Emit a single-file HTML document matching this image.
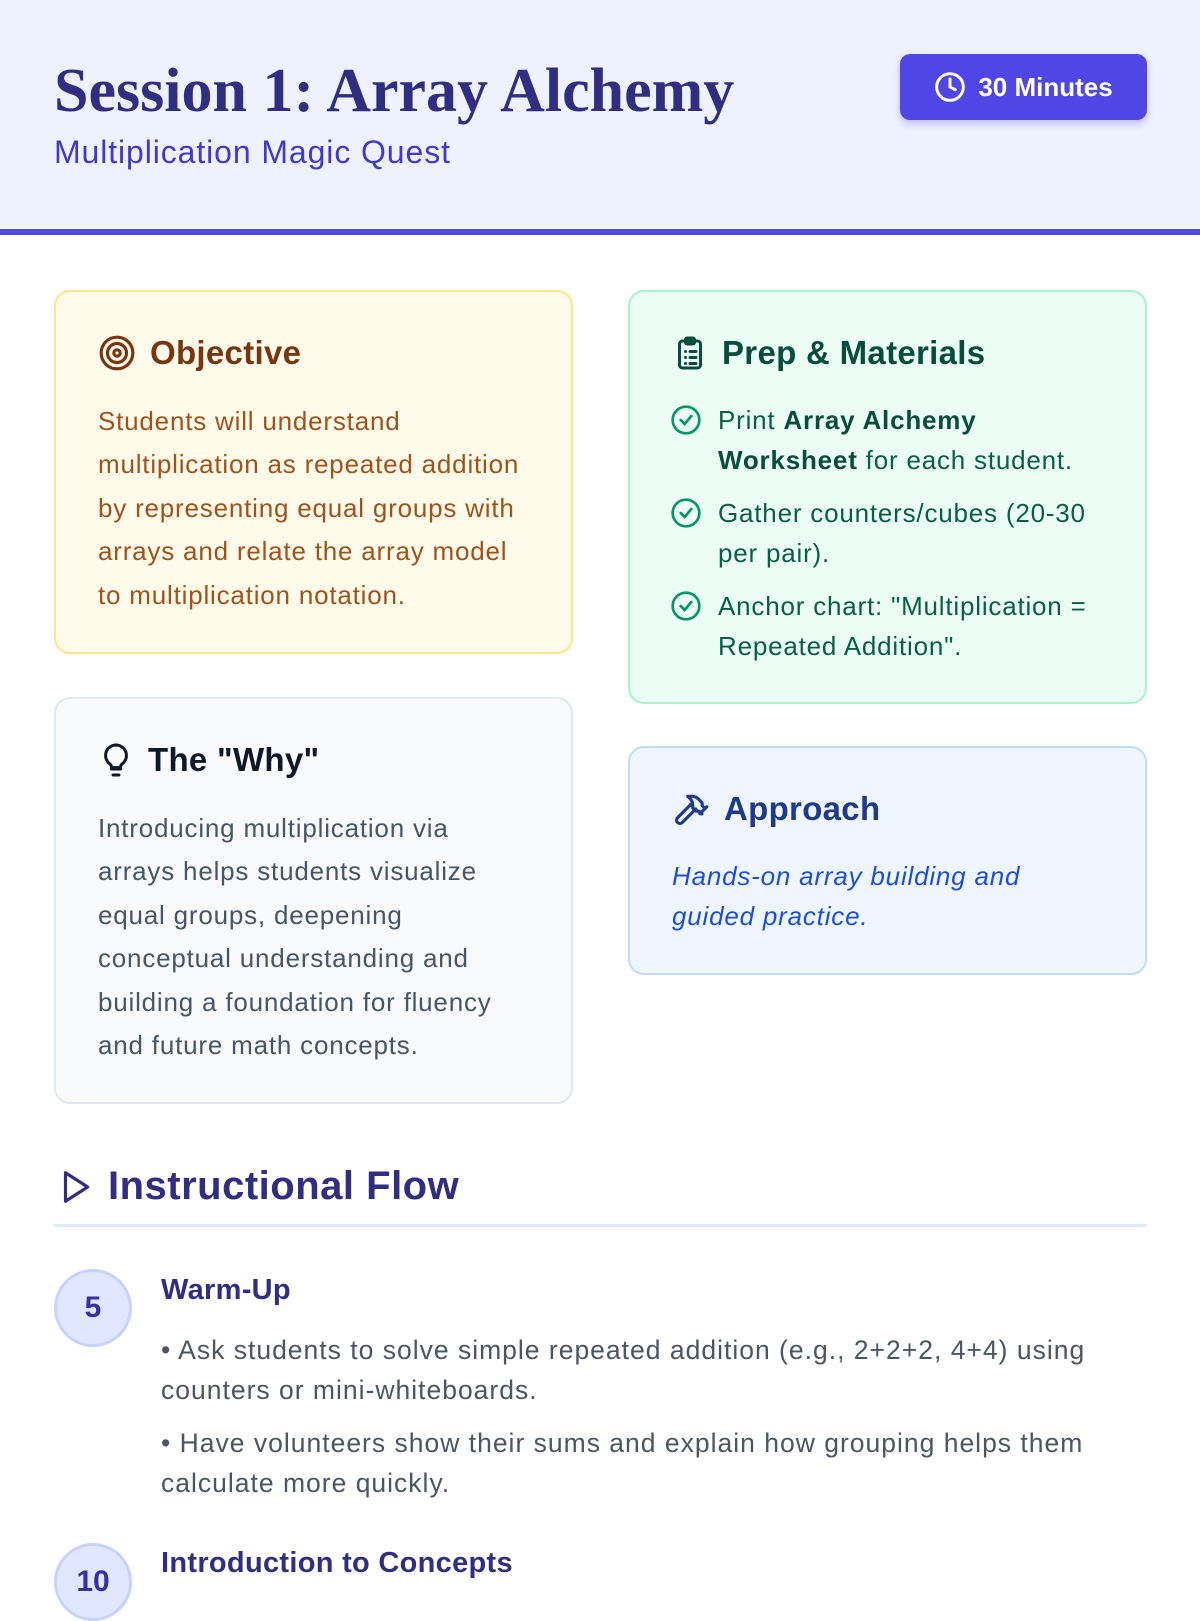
<!DOCTYPE html>
<html><head><meta charset="utf-8"><style>
*{margin:0;padding:0;box-sizing:border-box}
body{width:1200px;height:1600px;overflow:hidden;background:#fff;font-family:"Liberation Sans",sans-serif;position:relative}
.hdr{position:absolute;left:0;top:0;width:1200px;height:235px;background:#eef2ff;border-bottom:6px solid #4f46e5}
.title{position:absolute;left:54px;top:56px;font-family:"Liberation Serif",serif;font-weight:bold;font-size:62px;color:#312e81;letter-spacing:0px;white-space:nowrap}
.sub{position:absolute;left:54px;top:134px;font-size:32px;letter-spacing:0.9px;color:#4338ca;white-space:nowrap}
.btn{position:absolute;left:900px;top:54px;width:247px;height:66px;background:#4f46e5;border-radius:10px;box-shadow:0 4px 8px rgba(79,70,229,.3);color:#fff;font-weight:bold;font-size:26px;display:flex;align-items:center;justify-content:center;gap:12px}
.card{position:absolute;border-radius:16px;border:2px solid}
.h{position:absolute;left:42px;font-weight:bold;font-size:33px;letter-spacing:0.3px;display:flex;align-items:center;gap:14px;white-space:nowrap}
.p{position:absolute;left:42px;font-size:26px;line-height:43.4px;letter-spacing:0.8px;white-space:nowrap}
ul{list-style:none;position:absolute;left:40px}
li{position:relative;padding-left:48px;font-size:26px;line-height:40px;margin-bottom:13px;letter-spacing:0.8px;white-space:nowrap}
li svg{position:absolute;left:0;top:4px}
.step{position:absolute;left:54px;width:78px;height:78px;border-radius:50%;background:#e0e7ff;border:3px solid #c7d2fe;color:#3730a3;font-weight:bold;font-size:30px;display:flex;align-items:center;justify-content:center}
.st{position:absolute;left:161px;font-weight:bold;font-size:29px;letter-spacing:0.3px;color:#312e81;white-space:nowrap}
.sp{position:absolute;left:161px;font-size:26.5px;line-height:40px;letter-spacing:1px;color:#4b5563;white-space:nowrap}
</style></head><body>
<div class="hdr"></div>
<div class="title">Session 1: Array Alchemy</div>
<div class="sub">Multiplication Magic Quest</div>
<div class="btn"><svg width="32" height="32" viewBox="0 0 24 24" fill="none" stroke="#fff" stroke-width="2.2" stroke-linecap="round"><circle cx="12" cy="12" r="10"/><path d="M12 6v6l4 2"/></svg>30 Minutes</div>

<div class="card" style="left:54px;top:290px;width:519px;height:364px;background:#fffbeb;border-color:#fde68a">
<div class="h" style="top:42px;color:#78350f"><svg width="38" height="38" viewBox="0 0 24 24" fill="none" stroke="#78350f" stroke-width="2"><circle cx="12" cy="12" r="10"/><circle cx="12" cy="12" r="6"/><circle cx="12" cy="12" r="2"/></svg>Objective</div>
<div class="p" style="top:108px;color:#a0521a">Students will understand<br>multiplication as repeated addition<br>by representing equal groups with<br>arrays and relate the array model<br>to multiplication notation.</div>
</div>

<div class="card" style="left:54px;top:697px;width:519px;height:407px;background:#f8fafc;border-color:#e2e8f0">
<div class="h" style="top:42px;color:#0f172a"><svg width="36" height="38" viewBox="0 0 24 24" fill="none" stroke="#0f172a" stroke-width="2" stroke-linecap="round"><path d="M9 18h6M10 22h4M12 2a7 7 0 0 0-4 12.7c.6.5 1 1.3 1 2.3h6c0-1 .4-1.8 1-2.3A7 7 0 0 0 12 2z"/></svg>The "Why"</div>
<div class="p" style="top:108px;color:#475569">Introducing multiplication via<br>arrays helps students visualize<br>equal groups, deepening<br>conceptual understanding and<br>building a foundation for fluency<br>and future math concepts.</div>
</div>

<div class="card" style="left:628px;top:290px;width:519px;height:414px;background:#ecfdf5;border-color:#a7f3d0">
<div class="h" style="top:42px;color:#064e3b"><svg width="36" height="38" viewBox="0 0 24 24" fill="none" stroke="#064e3b" stroke-width="2" stroke-linecap="round"><rect x="5" y="4" width="14" height="18" rx="2"/><rect x="9" y="2" width="6" height="4" rx="1"/><path d="M9 11h.01M12 11h4M9 15h.01M12 15h4M9 19h.01M12 19h4"/></svg>Prep &amp; Materials</div>
<ul style="top:108px;color:#065f46">
<li><svg width="32" height="32" viewBox="0 0 24 24" fill="none" stroke="#059669" stroke-width="2" stroke-linecap="round"><circle cx="12" cy="12" r="10"/><path d="M8 12l3 3 5-6"/></svg>Print <b style="color:#064e3b">Array Alchemy<br>Worksheet</b> for each student.</li>
<li><svg width="32" height="32" viewBox="0 0 24 24" fill="none" stroke="#059669" stroke-width="2" stroke-linecap="round"><circle cx="12" cy="12" r="10"/><path d="M8 12l3 3 5-6"/></svg>Gather counters/cubes (20-30<br>per pair).</li>
<li><svg width="32" height="32" viewBox="0 0 24 24" fill="none" stroke="#059669" stroke-width="2" stroke-linecap="round"><circle cx="12" cy="12" r="10"/><path d="M8 12l3 3 5-6"/></svg>Anchor chart: "Multiplication =<br>Repeated Addition".</li>
</ul>
</div>

<div class="card" style="left:628px;top:746px;width:519px;height:229px;background:#eff6ff;border-color:#bfdbfe">
<div class="h" style="top:42px;color:#1e3a8a"><svg width="38" height="38" viewBox="0 0 24 24" fill="none" stroke="#1e3a8a" stroke-width="2" stroke-linecap="round" stroke-linejoin="round"><path d="M15 12l-8.5 8.5a2.1 2.1 0 0 1-3-3L12 9"/><path d="M17.6 15L22 10.6M20.9 11.7l-1.3-1.2a2 2 0 0 1-.6-1.5v-1L16.7 5.7A6 6 0 0 0 12.5 4H9.9l.9.8a6.6 6.6 0 0 1 2.3 4.9v1.6l2 2h1.2c.5 0 1 .2 1.4.5l1.2 1.3"/></svg>Approach</div>
<div class="p" style="top:108px;color:#1d4ed8;font-style:italic;line-height:40px">Hands-on array building and<br>guided practice.</div>
</div>

<div style="position:absolute;left:56px;top:1164px;display:flex;align-items:center;gap:14px;font-weight:bold;font-size:40px;letter-spacing:0.5px;color:#312e81"><svg width="38" height="40" viewBox="0 0 24 24" fill="none" stroke="#312e81" stroke-width="2" stroke-linejoin="round"><path d="M6 3l14 9-14 9z"/></svg>Instructional Flow</div>
<div style="position:absolute;left:54px;top:1224px;width:1093px;height:3px;background:#e0e7ff"></div>

<div class="step" style="top:1269px">5</div>
<div class="st" style="top:1274px">Warm-Up</div>
<div class="sp" style="top:1330px">• Ask students to solve simple repeated addition (e.g., 2+2+2, 4+4) using<br>counters or mini-whiteboards.</div>
<div class="sp" style="top:1423px">• Have volunteers show their sums and explain how grouping helps them<br>calculate more quickly.</div>

<div class="step" style="top:1543px">10</div>
<div class="st" style="top:1547px">Introduction to Concepts</div>
</body></html>
